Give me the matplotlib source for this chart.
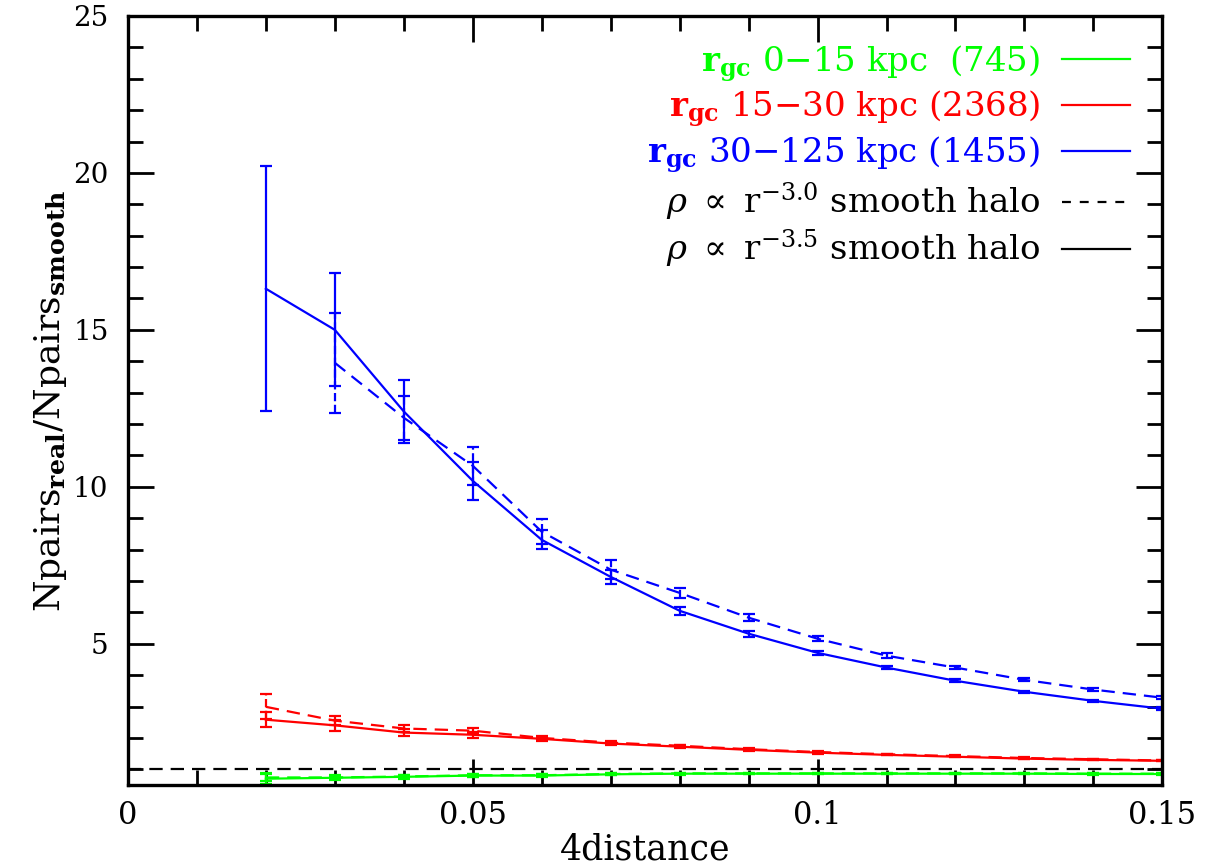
import matplotlib
matplotlib.use("Agg")
import matplotlib.pyplot as plt
from matplotlib.ticker import MultipleLocator
from matplotlib.lines import Line2D

plt.rcParams['mathtext.fontset'] = 'dejavuserif'

# ---------------- data ----------------
x_all = [0.02, 0.03, 0.04, 0.05, 0.06, 0.07, 0.08, 0.09, 0.10, 0.11, 0.12, 0.13, 0.14, 0.15]
x_from03 = x_all[1:]

# r^-3.5 smooth halo (solid)
green_solid = [0.70, 0.73, 0.76, 0.80, 0.80, 0.84, 0.86, 0.86, 0.86, 0.86, 0.86, 0.86, 0.85, 0.85]
green_solid_err = [0.18, 0.08, 0.06, 0.05, 0.04, 0.03, 0.03, 0.02, 0.02, 0.02, 0.02, 0.02, 0.02, 0.02]
red_solid = [2.58, 2.40, 2.17, 2.10, 1.97, 1.82, 1.72, 1.62, 1.53, 1.46, 1.40, 1.34, 1.30, 1.27]
red_solid_err = [0.24, 0.18, 0.10, 0.10, 0.06, 0.05, 0.04, 0.03, 0.03, 0.02, 0.02, 0.02, 0.02, 0.02]
blue_solid = [16.31, 15.00, 12.40, 10.19, 8.31, 7.13, 6.05, 5.32, 4.71, 4.24, 3.82, 3.47, 3.18, 2.93]
blue_solid_err = [3.90, 1.80, 1.00, 0.60, 0.30, 0.22, 0.12, 0.10, 0.07, 0.06, 0.05, 0.04, 0.04, 0.04]

# r^-3.0 smooth halo (dashed)
green_dash = [0.74, 0.74, 0.77, 0.81, 0.81, 0.85, 0.87, 0.87, 0.87, 0.87, 0.87, 0.87, 0.86, 0.86]
green_dash_err = [0.12, 0.06, 0.05, 0.04, 0.03, 0.03, 0.02, 0.02, 0.02, 0.02, 0.02, 0.02, 0.02, 0.02]
red_dash = [2.99, 2.55, 2.30, 2.23, 2.00, 1.85, 1.75, 1.64, 1.55, 1.48, 1.42, 1.36, 1.32, 1.28]
red_dash_err = [0.40, 0.15, 0.10, 0.08, 0.05, 0.04, 0.03, 0.03, 0.02, 0.02, 0.02, 0.02, 0.02, 0.02]
blue_dash = [13.95, 12.20, 10.67, 8.57, 7.36, 6.62, 5.83, 5.16, 4.62, 4.24, 3.85, 3.54, 3.28]
blue_dash_err = [1.60, 0.70, 0.60, 0.40, 0.30, 0.15, 0.12, 0.08, 0.07, 0.05, 0.05, 0.04, 0.04]

smooth_level = 1.0

legend_labels = [r'$\mathbf{r_{gc}}$ 0$-$15 kpc  (745)',
                 r'$\mathbf{r_{gc}}$ 15$-$30 kpc (2368)',
                 r'$\mathbf{r_{gc}}$ 30$-$125 kpc (1455)',
                 r'$\rho\ \propto$ r$^{-3.0}$ smooth halo',
                 r'$\rho\ \propto$ r$^{-3.5}$ smooth halo']

xtick_vals = [0, 0.05, 0.1, 0.15]
xtick_labels = ['0', '0.05', '0.1', '0.15']
ytick_vals = [5, 10, 15, 20, 25]
ytick_labels = ['5', '10', '15', '20', '25']

GREEN, RED, BLUE = '#00ff00', '#ff0000', '#0000ff'

# ---------------- figure ----------------
fig = plt.figure(figsize=(12.07, 8.67), dpi=100)
ax = fig.add_axes([0.106, 0.0946, 0.857, 0.887])

lw = 1.6
DASH = (0, (6, 3.6))

def eb(x, y, e, c, ls):
    cont = ax.errorbar(x, y, yerr=e, color=c, lw=lw, ls=ls, capsize=4.5,
                       capthick=lw, elinewidth=lw)
    if ls != '-':
        for col in cont[2]:
            col.set_linestyle('--')
    return cont

eb(x_all, green_solid, green_solid_err, GREEN, '-')
eb(x_all, green_dash, green_dash_err, GREEN, DASH)
eb(x_all, red_solid, red_solid_err, RED, '-')
eb(x_all, red_dash, red_dash_err, RED, DASH)
eb(x_all, blue_solid, blue_solid_err, BLUE, '-')
eb(x_from03, blue_dash, blue_dash_err, BLUE, DASH)

ax.axhline(smooth_level, color='black', lw=lw, ls=DASH)

ax.set_xlim(0, 0.15)
ax.set_ylim(0.5, 25)

ax.xaxis.set_minor_locator(MultipleLocator(0.01))
ax.yaxis.set_minor_locator(MultipleLocator(1))
ax.set_xticks(xtick_vals)
ax.set_xticklabels(xtick_labels)
ax.set_yticks(ytick_vals)
ax.set_yticklabels(ytick_labels)

ax.tick_params(which='both', direction='in', top=True, right=True, width=2)
ax.tick_params(which='major', length=19)
ax.tick_params(which='minor', length=11)
ax.tick_params(axis='x', which='major', pad=11)
ax.tick_params(axis='y', which='major', pad=14)
for lab in ax.get_xticklabels():
    lab.set_family('DejaVu Serif'); lab.set_fontsize(22)
for lab in ax.get_yticklabels():
    lab.set_family('DejaVu Serif'); lab.set_fontsize(20)

for sp in ax.spines.values():
    sp.set_linewidth(2.4)

ax.set_xlabel('4distance', family='DejaVu Serif', fontsize=25, labelpad=1)
ax.set_ylabel(r'Npairs$_{\mathbf{real}}$/Npairs$_{\mathbf{smooth}}$', family='DejaVu Serif',
              fontsize=26, labelpad=3)

# legend
handles = [Line2D([], [], color=GREEN, lw=lw),
           Line2D([], [], color=RED, lw=lw),
           Line2D([], [], color=BLUE, lw=lw),
           Line2D([], [], color='black', lw=lw, ls=(0, (4, 4))),
           Line2D([], [], color='black', lw=lw)]
leg = ax.legend(handles, legend_labels, loc='upper right', markerfirst=False, frameon=False,
                prop={'family': 'DejaVu Serif', 'size': 24.5}, handlelength=2.0,
                labelspacing=0.16, borderaxespad=0.0, borderpad=0.4, handletextpad=0.62,
                labelcolor=[GREEN, RED, BLUE, 'black', 'black'],
                bbox_to_anchor=(0.9816, 0.9825))
for t in leg.get_texts():
    t.set_ha('right')

fig.savefig('out.png', dpi=100)
